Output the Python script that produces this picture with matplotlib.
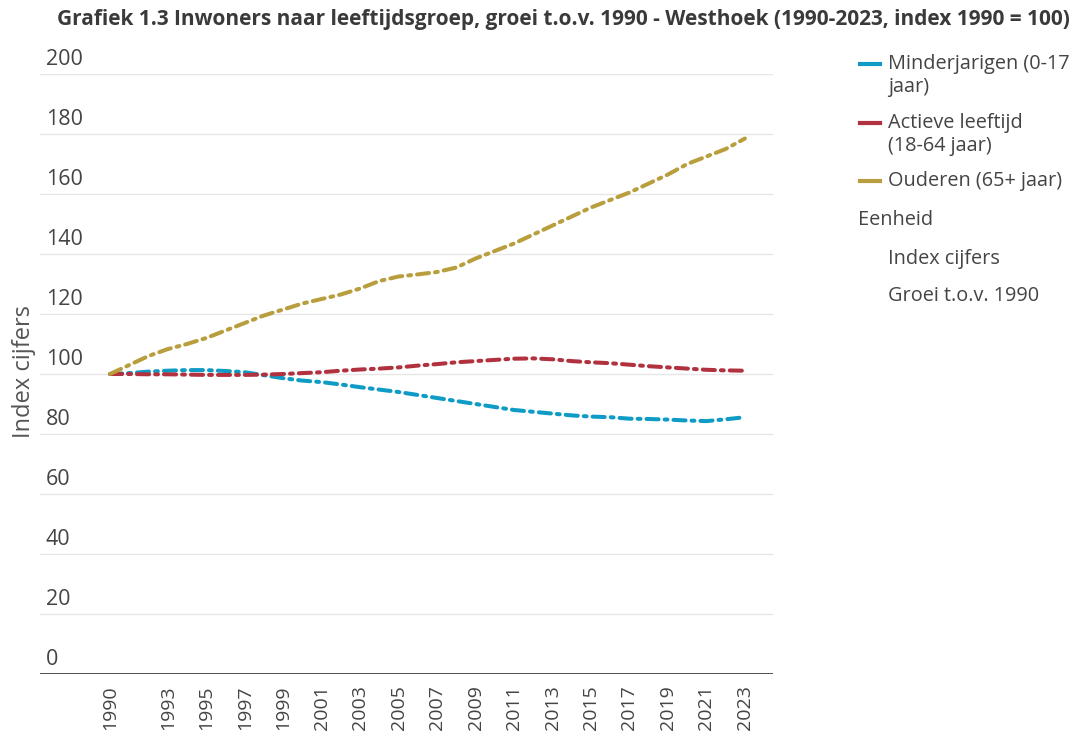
import matplotlib
matplotlib.use("Agg")
import matplotlib.pyplot as plt
from matplotlib.lines import Line2D
import matplotlib.transforms as mtransforms

years = list(range(1990, 2024))
minderjarigen = [100.0, 100.3, 100.8, 101.1, 101.3, 101.3, 101.0, 100.6, 99.6, 98.6,
                 97.8, 97.3, 96.5, 95.6, 94.8, 94.0, 93.0, 92.0, 91.0, 90.0,
                 89.0, 88.0, 87.4, 86.8, 86.2, 85.8, 85.6, 85.1, 85.0, 84.8,
                 84.5, 84.3, 84.9, 85.6]
actieve = [100.0, 100.0, 99.9, 99.9, 99.8, 99.7, 99.7, 99.7, 99.8, 100.0,
           100.3, 100.6, 101.1, 101.5, 101.8, 102.2, 102.8, 103.3, 103.9, 104.3,
           104.7, 105.1, 105.2, 104.9, 104.3, 103.9, 103.6, 103.1, 102.6, 102.2,
           101.8, 101.4, 101.2, 101.1]
ouderen = [100.0, 103.0, 106.0, 108.3, 110.0, 112.0, 114.5, 117.0, 119.5, 121.5,
           123.5, 125.0, 126.5, 128.5, 131.0, 132.5, 133.2, 134.0, 135.5, 138.5,
           141.0, 143.5, 146.5, 149.5, 152.5, 155.5, 158.0, 160.5, 163.5, 166.5,
           170.0, 172.5, 175.0, 178.5]

series_labels = ["Minderjarigen (0-17\njaar)", "Actieve leeftijd\n(18-64 jaar)", "Ouderen (65+ jaar)"]
colors = ["#0e9cc6", "#b2313f", "#b99e3d"]
x_ticks = [1990] + list(range(1993, 2024, 2))
y_ticks = list(range(0, 201, 20))

title = "Grafiek 1.3 Inwoners naar leeftijdsgroep, groei t.o.v. 1990 - Westhoek (1990-2023, index 1990 = 100)"
y_label = "Index cijfers"
extra_legend = ["Eenheid", "Index cijfers", "Groei t.o.v. 1990"]

plt.rcParams['font.family'] = ['Open Sans', 'DejaVu Sans']

W, H = 1085, 744
fig = plt.figure(figsize=(W / 100, H / 100), dpi=100)
ax = fig.add_axes([40 / W, 1 - 674 / H, (773 - 40) / W, (674 - 74) / H])

ax.set_xlim(1986.36, 2024.46)
ax.set_ylim(0, 200)

for vals, col in zip([minderjarigen, actieve, ouderen], colors):
    ax.plot(years, vals, color=col, lw=2.9, linestyle=(0, (3.0, 1.5, 0.7, 1.5)),
            solid_capstyle='round', dash_capstyle='round', zorder=3)

# grid
for yt in y_ticks:
    ax.axhline(yt, color="#e6e6e6", lw=1.0, zorder=1)
ax.axhline(0, color="#333333", lw=1.2, zorder=2)

for s in ax.spines.values():
    s.set_visible(False)

ax.set_yticks([])
trans = ax.get_yaxis_transform()
offset = mtransforms.offset_copy(trans, fig=fig, x=4, y=3, units='points')
for yt in y_ticks:
    ax.text(0.0, yt, str(yt), transform=offset, ha='left', va='bottom',
            fontsize=15.5, color="#444444", clip_on=False)

ax.set_xticks(x_ticks)
ax.set_xticklabels([str(t) for t in x_ticks], rotation=90, fontsize=14, color="#444444")
ax.tick_params(axis='x', length=0, pad=8)

fig.text(24 / W, 1 - 371 / H, y_label, rotation=90, ha='center', va='center',
         fontsize=17, color="#555555")

fig.text(1070 / W, 1 - 20 / H, title, ha='right', va='center', fontsize=15,
         fontweight='bold', color="#3a3a3a")

# legend
leg_y = [64, 123, 181]
for lab, col, yy in zip(series_labels, colors, leg_y):
    fig.add_artist(Line2D([860 / W, 880 / W], [1 - yy / H, 1 - yy / H], color=col, lw=3,
                          transform=fig.transFigure))
    fig.text(888 / W, 1 - (yy - 10) / H, lab, ha='left', va='top', fontsize=14.3,
             color="#444444", linespacing=1.2)
fig.text(858 / W, 1 - 220 / H, extra_legend[0], ha='left', va='center', fontsize=14.3, color="#444444")
fig.text(888 / W, 1 - 259 / H, extra_legend[1], ha='left', va='center', fontsize=14.3, color="#444444")
fig.text(888 / W, 1 - 296 / H, extra_legend[2], ha='left', va='center', fontsize=14.3, color="#444444")

fig.savefig("out.png", dpi=100)
